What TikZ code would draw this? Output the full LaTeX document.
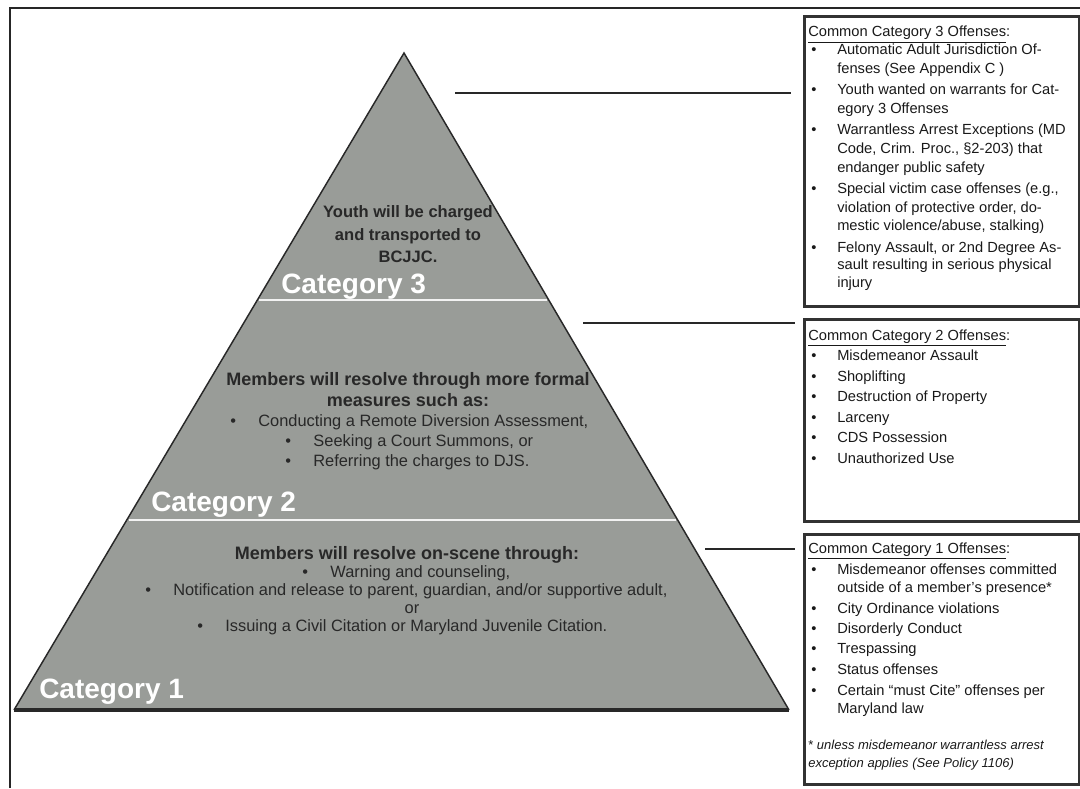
\documentclass[tikz,border=0pt]{standalone}
\usepackage{fontspec}
\setmainfont{Liberation Sans}
\usetikzlibrary{calc}
\definecolor{pyr}{RGB}{153,156,152}
\definecolor{edge}{RGB}{40,40,40}
\definecolor{ink}{RGB}{40,40,40}
\definecolor{boxink}{RGB}{25,25,25}
\definecolor{boxedge}{RGB}{50,50,50}
\newcommand\bx{\hspace*{2.25pt}\makebox[19.5pt][l]{\textbullet}}
\newcommand\cx{\hspace*{21.75pt}}
\newcommand\pb{\makebox[20pt][l]{\hspace*{-1pt}\textbullet}}
\begin{document}
\begin{tikzpicture}[x=0.75pt,y=-0.75pt,
  boxtxt/.style={anchor=base west,inner sep=0pt,text=boxink,font=\fontsize{11}{13}\selectfont},
  foot/.style={anchor=base west,inner sep=0pt,text=boxink,font=\fontsize{9.75}{12}\selectfont\itshape},
  offbox/.style={draw=boxedge,line width=1.9pt,anchor=north west,minimum width=206.25pt,inner sep=0pt},
  conn/.style={draw=edge,line width=1.5pt},
  pbold/.style={anchor=base,inner sep=0pt,text=ink,font=\fontsize{13.5}{16}\selectfont\bfseries},
  pbold3/.style={anchor=base,inner sep=0pt,text=ink,font=\fontsize{12.4}{15}\selectfont\bfseries},
  pitem/.style={anchor=base,inner sep=0pt,text=ink,font=\fontsize{12.3}{15}\selectfont},
  cat/.style={anchor=base west,inner sep=0pt,text=white,font=\fontsize{21}{25}\selectfont\bfseries},
  divider/.style={draw=white!95!black,line width=1.6pt}
]
\useasboundingbox (0,0) rectangle (1080,788);
% outer frame
\draw[line width=1.1pt,black!85] (10,788) -- (10,8) -- (1080,8);

% pyramid
\coordinate (apex) at (404,53);
\coordinate (bl) at (14,710);
\coordinate (br) at (789,710);
\fill[pyr] (apex) -- (br) -- (bl) -- cycle;
\draw[edge,line width=1.1pt,line join=miter] (bl) -- (apex) -- (br);
\draw[edge,line width=2.4pt] (bl) -- (br);
\draw[divider] ($(apex)!0.376!(bl)+(2,0)$) -- ($(apex)!0.376!(br)-(2,0)$);
\draw[divider] ($(apex)!0.711!(bl)+(2,0)$) -- ($(apex)!0.711!(br)-(2,0)$);

% category 3 text
\node[pbold3] (y1) at (408,217) {Youth will be charged};
\node[pbold3] (y2) at (408,240) {and transported to};
\node[pbold3] (y3) at (408,262) {BCJJC.};
\node[cat] (k3) at (281,293) {Category 3};

% category 2 text
\node[pbold] (m1) at (408,385) {Members will resolve through more formal};
\node[pbold] (m2) at (408,406) {measures such as:};
\node[pitem] (m3) at (410,426) {\pb Conducting a Remote Diversion Assessment,};
\node[pitem] (m4) at (410,446) {\pb Seeking a Court Summons, or};
\node[pitem] (m5) at (408,466) {\pb Referring the charges to DJS.};
\node[cat] (k2) at (151,511) {Category 2};

% category 1 text
\node[pbold] (n1) at (407,559) {Members will resolve on-scene through:};
\node[pitem] (n2) at (407,577) {\pb Warning and counseling,};
\node[pitem] (n3) at (407,595) {\pb Notification and release to parent, guardian, and/or supportive adult,};
\node[pitem] (n4) at (412,613) {or};
\node[pitem] (n5) at (403,631) {\pb Issuing a Civil Citation or Maryland Juvenile Citation.};
\node[cat] (k1) at (39,698) {Category 1};

% offense boxes
\node[offbox,minimum height=217.5pt] (box3) at (803,15) {};
\node[offbox,minimum height=151.5pt] (box2) at (803,318) {};
\node[offbox,minimum height=187.5pt] (box1) at (803,533) {};

% connectors
\coordinate (s3) at (455,93);
\coordinate (s2) at (583,323);
\coordinate (s1) at (705,549);
\draw[conn] (s3) -- ([xshift=-9pt]s3 -| box3.west);
\draw[conn] (s2) -- ([xshift=-6pt]s2 -| box2.west);
\draw[conn] (s1) -- ([xshift=-6pt]s1 -| box1.west);

% box 3 text
\node[boxtxt] (a0) at (808,37) {\underline{Common Category 3 Offenses}:};
\node[boxtxt] (a1) at (808,55) {\bx Automatic Adult Jurisdiction Of-};
\node[boxtxt] (a2) at (808,74) {\cx fenses (See Appendix C )};
\node[boxtxt] (a3) at (808,95) {\bx Youth wanted on warrants for Cat-};
\node[boxtxt] (a4) at (808,114) {\cx egory 3 Offenses};
\node[boxtxt] (a5) at (808,135) {\bx Warrantless Arrest Exceptions (MD};
\node[boxtxt] (a6) at (808,153) {\cx Code, Crim. Proc., §2-203) that};
\node[boxtxt] (a7) at (808,172) {\cx endanger public safety};
\node[boxtxt] (a8) at (808,193) {\bx Special victim case offenses (e.g.,};
\node[boxtxt] (a9) at (808,212) {\cx violation of protective order, do-};
\node[boxtxt] (a10) at (808,230) {\cx mestic violence/abuse, stalking)};
\node[boxtxt] (a11) at (808,252) {\bx Felony Assault, or 2nd Degree As-};
\node[boxtxt] (a12) at (808,269) {\cx sault resulting in serious physical};
\node[boxtxt] (a13) at (808,287) {\cx injury};

% box 2 text
\node[boxtxt] (b0) at (808,340) {\underline{Common Category 2 Offenses}:};
\node[boxtxt] (b1) at (808,360) {\bx Misdemeanor Assault};
\node[boxtxt] (b2) at (808,381) {\bx Shoplifting};
\node[boxtxt] (b3) at (808,401) {\bx Destruction of Property};
\node[boxtxt] (b4) at (808,422) {\bx Larceny};
\node[boxtxt] (b5) at (808,442) {\bx CDS Possession};
\node[boxtxt] (b6) at (808,463) {\bx Unauthorized Use};

% box 1 text
\node[boxtxt] (c0) at (808,553) {\underline{Common Category 1 Offenses}:};
\node[boxtxt] (c1) at (808,574) {\bx Misdemeanor offenses committed};
\node[boxtxt] (c2) at (808,592) {\cx outside of a member's presence*};
\node[boxtxt] (c3) at (808,613) {\bx City Ordinance violations};
\node[boxtxt] (c4) at (808,633) {\bx Disorderly Conduct};
\node[boxtxt] (c5) at (808,653) {\bx Trespassing};
\node[boxtxt] (c6) at (808,674) {\bx Status offenses};
\node[boxtxt] (c7) at (808,695) {\bx Certain \textquotedblleft must Cite\textquotedblright\ offenses per};
\node[boxtxt] (c8) at (808,713) {\cx Maryland law};
\node[foot] (f1) at (808,749) {{\upshape *} unless misdemeanor warrantless arrest};
\node[foot] (f2) at (808,767) {exception applies (See Policy 1106)};
\end{tikzpicture}
\end{document}
